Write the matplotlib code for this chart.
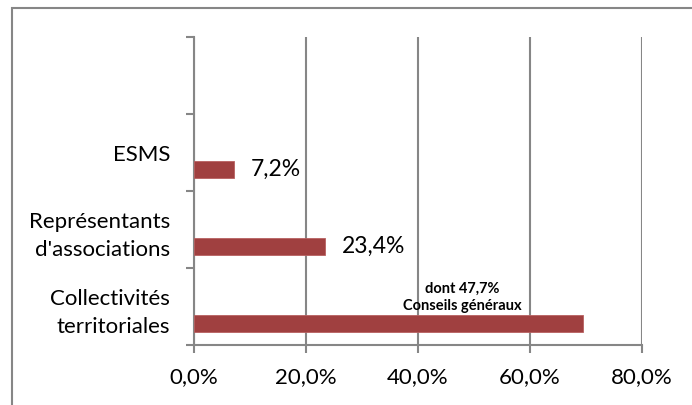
import numpy as np
import matplotlib
matplotlib.use("Agg")
import matplotlib.pyplot as plt
from matplotlib.patches import Rectangle

# data (bottom to top, the top slot is empty in the original)
categories = ["Collectivités\nterritoriales", "Représentants\nd'associations", "ESMS", ""]
values = [69.4, 23.4, 7.2, np.nan]
value_labels = ["", "23,4%", "7,2%", ""]
note_text = "dont 47,7%\nConseils généraux"
x_ticks = [0, 20, 40, 60, 80]
x_tick_labels = ["0,0%", "20,0%", "40,0%", "60,0%", "80,0%"]

BAR_COLOR = "#A04040"
GRID_COLOR = "#868686"

plt.rcParams["font.family"] = ["Lato", "DejaVu Sans"]

fig = plt.figure(figsize=(6.92, 4.05), dpi=100)
ax = fig.add_axes([0.2803, 0.1481, 0.9277 - 0.2803, 0.9086 - 0.1481])

# frame round the chart (left and top visible only)
fig.patches.append(Rectangle((12 / 692, -0.05), 1.2, 1 - 8 / 405 + 0.05,
                             transform=fig.transFigure, fill=False,
                             edgecolor=GRID_COLOR, linewidth=1.5))

pos = np.arange(len(categories))
bar_pos = pos - 0.22
ax.barh(bar_pos, values, height=0.22, color=BAR_COLOR, edgecolor="#B86060", linewidth=0.6, zorder=3)

for y, v, lab in zip(bar_pos, values, value_labels):
    if lab:
        ax.text(v + 3.0, y, lab, va="center", ha="left", fontsize=16.5, color="black")

ax.text(47.9, 0.12, note_text, ha="center", va="center", fontsize=10.5,
        fontweight="bold", linespacing=1.3)

ax.set_xlim(0, 80)
ax.set_ylim(-0.5, 3.5)
ax.set_xticks(x_ticks)
ax.set_xticklabels(x_tick_labels, fontsize=16)
# category boundaries carry the tick marks, centres carry the labels
ax.set_yticks(list(pos - 0.5) + [3.5])
ax.set_yticklabels([])
ax.set_yticks(pos, minor=True)
ax.set_yticklabels(categories, minor=True, fontsize=16, linespacing=1.5)
ax.tick_params(axis="y", which="minor", length=0, pad=17)
ax.tick_params(axis="y", which="major", length=6, width=1.5, color=GRID_COLOR)
ax.tick_params(axis="x", length=6, width=1.5, color=GRID_COLOR, pad=10)

ax.grid(axis="x", color=GRID_COLOR, linewidth=1.5, zorder=0)
for s in ["top", "right"]:
    ax.spines[s].set_visible(False)
for s in ["left", "bottom"]:
    ax.spines[s].set_color(GRID_COLOR)
    ax.spines[s].set_linewidth(1.5)

fig.savefig("out.png", dpi=100)
